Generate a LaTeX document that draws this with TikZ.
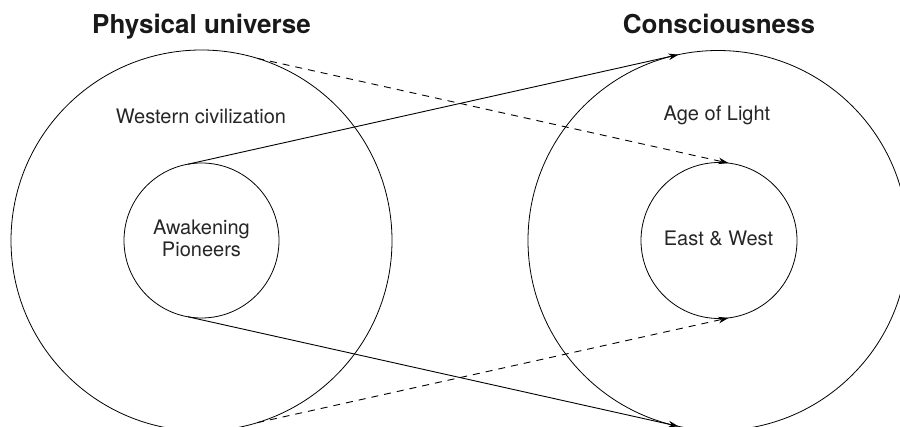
\documentclass[tikz,border=0pt]{standalone}
\usepackage{fontspec}
\setmainfont{TeX Gyre Heros}
\usetikzlibrary{arrows.meta}
\begin{document}
\begin{tikzpicture}[x=1pt,y=-1pt,
  ring/.style={draw, circle, inner sep=0pt, outer sep=0pt, line width=0.8pt},
  lbl/.style={font=\fontsize{20}{22}\selectfont, text=black!85, align=center, inner sep=0pt},
  ttl/.style={font=\fontsize{26}{30}\selectfont\bfseries, text=black!90, inner sep=0pt, anchor=base},
  link/.style={line width=0.9pt, -{Stealth[length=10pt,width=6.5pt,inset=3pt]}},
  dlink/.style={link, dash pattern=on 7pt off 6pt}]
\useasboundingbox (0,0) rectangle (900,427);
\clip (0,0) rectangle (900,427);
% circles
\node[ring, minimum size=381pt] (Lbig) at (201.5,240.5) {};
\node[ring, minimum size=155pt] (Lsmall) at (201.5,240.5) {};
\node[ring, minimum size=380pt] (Rbig) at (718,240.5) {};
\node[ring, minimum size=156pt] (Rsmall) at (719,240.5) {};
% titles
\node[ttl] (t1) at (201.5,34) {Physical universe};
\node[ttl] (t2) at (719,34) {Consciousness};
% labels
\node[lbl, anchor=base] (wc) at (201,124) {Western civilization};
\node[lbl] (ap) at (201.5,238.3) {Awakening\\Pioneers};
\node[lbl, anchor=base] (al) at (717,121) {Age of Light};
\node[lbl, anchor=base] (ew) at (718.5,246) {East \& West};
% connectors
\draw[link] (Lsmall.100) -- (Rbig.102);
\draw[link] (Lsmall.260) -- (Rbig.258);
\draw[dlink] (Lbig.73) -- (Rsmall.83);
\draw[dlink] (Lbig.287) -- (Rsmall.277);
\end{tikzpicture}
\end{document}
